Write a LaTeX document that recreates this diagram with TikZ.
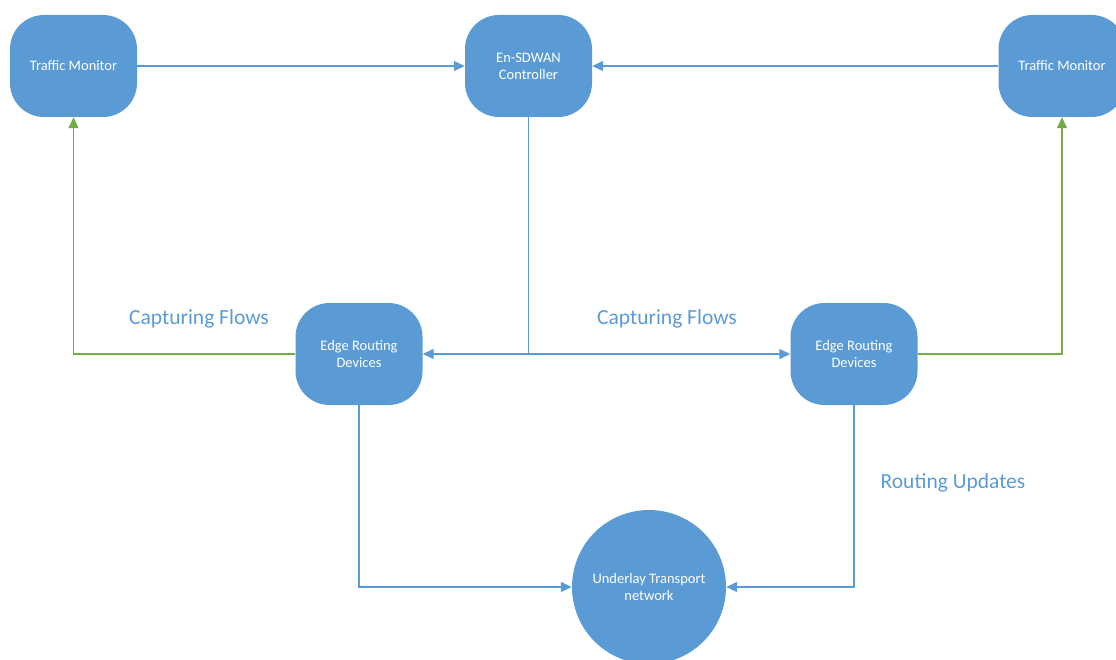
\documentclass[tikz,border=0pt]{standalone}
\usepackage{fontspec}
\setmainfont{Carlito}
\usetikzlibrary{arrows.meta}
\definecolor{boxblue}{HTML}{5B9BD5}
\definecolor{linkgreen}{HTML}{70AD47}
\definecolor{labelblue}{HTML}{5B9BD5}
\tikzset{
  unit/.style={draw=none, fill=boxblue, rounded corners=34pt, minimum width=127pt,
    minimum height=102pt, text=white, align=center, inner sep=0pt,
    font=\fontsize{14.5}{17}\selectfont},
  hub/.style={circle, fill=boxblue, minimum size=154pt, text=white, align=center,
    inner sep=0pt, font=\fontsize{14.5}{17}\selectfont},
  bluelink/.style={draw=boxblue, line width=1.3pt, -{Triangle[length=11pt,width=10pt]}},
  greenlink/.style={draw=linkgreen, line width=1.3pt, -{Triangle[length=11pt,width=10pt]}},
  tag/.style={text=labelblue, font=\fontsize{21.5}{24}\selectfont},
}
\begin{document}
\begin{tikzpicture}[x=1pt, y=-1pt]
  \useasboundingbox (0,0) rectangle (1116,660);
  \clip (0,0) rectangle (1116,660);

  % monitors and controller
  \node[unit] (tmL)  at (73.5,66)   {Traffic Monitor};
  \node[unit] (ctrl) at (528.5,66)  {En-SDWAN\\Controller};
  \node[unit] (tmR)  at (1062,66)   {Traffic Monitor};

  % edge routers
  \node[unit] (erL) at (359,354) {Edge Routing\\Devices};
  \node[unit] (erR) at (854,354) {Edge Routing\\Devices};

  % transport network
  \node[hub] (net) at (649,587) {Underlay Transport\\network};

  % branch point under the controller
  \coordinate (split) at (ctrl.south |- erL.east);

  % reports to the controller
  \draw[bluelink] (tmL.east) -- (ctrl.west);
  \draw[bluelink] (tmR.west) -- (ctrl.east);

  % controller to edge routers
  \draw[draw=boxblue, line width=1.3pt] (ctrl.south) -- (split);
  \draw[bluelink] (split) -- (erL.east);
  \draw[bluelink] (split) -- (erR.west);

  % flow capture towards the monitors
  \draw[greenlink] (erL.west) -| (tmL.south);
  \draw[greenlink] (erR.east) -| (tmR.south);

  % routing updates into the underlay
  \draw[bluelink] (erL.south) |- (net.west);
  \draw[bluelink] (erR.south) |- (net.east);

  % labels
  \node[tag] (capL) at (199,318.5) {Capturing Flows};
  \node[tag] (capR) at (667,318.5) {Capturing Flows};
  \node[tag] (rupd) at (953,482.5) {Routing Updates};
\end{tikzpicture}
\end{document}
